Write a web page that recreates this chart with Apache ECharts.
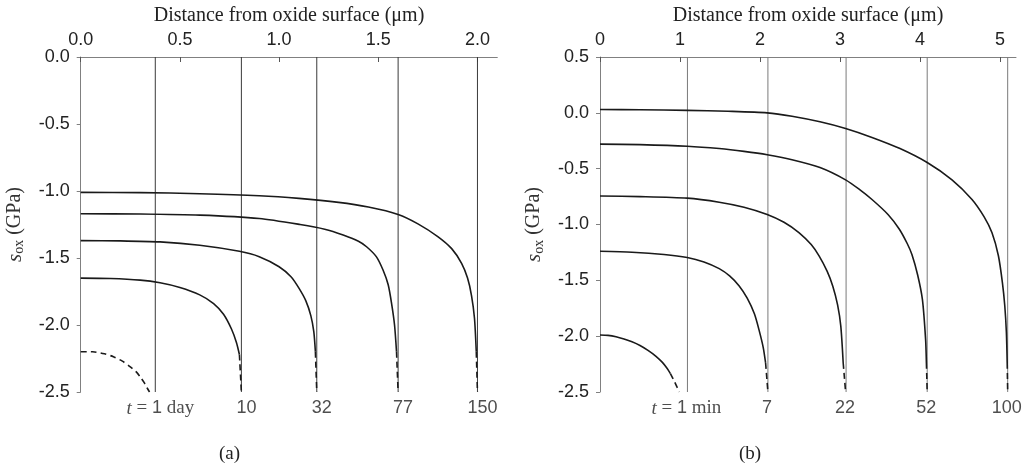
<!DOCTYPE html>
<html>
<head>
<meta charset="utf-8">
<script src="https://cdn.jsdelivr.net/npm/echarts@6/dist/echarts.min.js"></script>
<style>
html, body { margin: 0; padding: 0; background: #fff; }
#main { width: 1036px; height: 469px; }
</style>
</head>
<body>
<div id="main"></div>
<script>
// tick labels
var leftXTicks = [0, 0.5, 1.0, 1.5, 2.0];
var rightXTicks = [0, 1, 2, 3, 4, 5];

// growth front positions (um) and labels under them
var leftFronts = [0.376, 0.81, 1.19, 1.6, 2.0];
var leftTimes = ['1 day', '10', '32', '77', '150'];
var rightFronts = [1.093, 2.099, 3.076, 4.09, 5.096];
var rightTimes = ['1 min', '7', '22', '52', '100'];

// (a) stress profiles, GPa
var a1day = [[0, -2.2], [0.06, -2.2], [0.12, -2.215], [0.165, -2.237], [0.21, -2.27], [0.25, -2.312], [0.28, -2.35], [0.3, -2.387], [0.32, -2.43], [0.335, -2.47], [0.347, -2.5]];
var a10 = [[0, -1.65], [0.15, -1.653], [0.3, -1.665], [0.4, -1.685], [0.5, -1.72], [0.6, -1.775], [0.67, -1.84], [0.72, -1.92], [0.76, -2.03], [0.785, -2.13], [0.8, -2.22]];
var a10Tail = [[0.8, -2.22], [0.81, -2.5]];
var a32 = [[0, -1.37], [0.2, -1.372], [0.4, -1.38], [0.6, -1.405], [0.8, -1.45], [0.9, -1.49], [1.0, -1.565], [1.06, -1.64], [1.1, -1.725], [1.135, -1.82], [1.16, -1.93], [1.175, -2.05], [1.183, -2.2]];
var a32Tail = [[1.183, -2.2], [1.19, -2.5]];
var a77 = [[0, -1.17], [0.3, -1.172], [0.6, -1.18], [0.9, -1.205], [1.106, -1.25], [1.23, -1.285], [1.323, -1.328], [1.4, -1.375], [1.441, -1.416], [1.49, -1.49], [1.524, -1.59], [1.55, -1.7], [1.567, -1.838], [1.582, -2.0], [1.592, -2.2]];
var a77Tail = [[1.592, -2.2], [1.6, -2.5]];
var a150 = [[0, -1.01], [0.3, -1.012], [0.6, -1.02], [0.9, -1.035], [1.1, -1.055], [1.3, -1.085], [1.45, -1.12], [1.6, -1.175], [1.7, -1.245], [1.8, -1.34], [1.87, -1.43], [1.92, -1.54], [1.95, -1.65], [1.97, -1.78], [1.985, -1.95], [1.994, -2.2]];
var a150Tail = [[1.994, -2.2], [2.0, -2.5]];

// (b) stress profiles, GPa
var b1min = [[0, -1.99], [0.1, -1.993], [0.2, -2.005], [0.3, -2.025], [0.4, -2.05], [0.5, -2.083], [0.6, -2.127], [0.7, -2.18], [0.78, -2.235], [0.84, -2.29], [0.88, -2.335]];
var b1minTail = [[0.88, -2.335], [0.93, -2.405], [0.965, -2.46], [0.99, -2.5]];
var b7 = [[0, -1.24], [0.4, -1.248], [0.8, -1.268], [1.09, -1.295], [1.3, -1.335], [1.49, -1.395], [1.62, -1.46], [1.74, -1.55], [1.84, -1.66], [1.93, -1.8], [1.99, -1.95], [2.04, -2.1], [2.07, -2.24]];
var b7Tail = [[2.07, -2.24], [2.099, -2.5]];
var b22 = [[0, -0.745], [0.5, -0.75], [1.09, -0.764], [1.49, -0.8], [1.8, -0.845], [2.09, -0.91], [2.3, -0.98], [2.49, -1.074], [2.64, -1.18], [2.74, -1.283], [2.84, -1.42], [2.91, -1.552], [2.97, -1.72], [3.01, -1.91], [3.04, -2.24]];
var b22Tail = [[3.04, -2.24], [3.07, -2.5]];
var b52 = [[0, -0.28], [0.5, -0.285], [1.09, -0.299], [1.49, -0.32], [1.8, -0.345], [2.09, -0.375], [2.4, -0.42], [2.75, -0.49], [3.07, -0.6], [3.25, -0.69], [3.4, -0.776], [3.6, -0.91], [3.74, -1.04], [3.84, -1.17], [3.9, -1.27], [3.97, -1.45], [4.03, -1.671], [4.07, -2.03], [4.08, -2.24]];
var b52Tail = [[4.08, -2.24], [4.09, -2.5]];
var b100 = [[0, 0.03], [0.5, 0.028], [1.09, 0.022], [1.6, 0.014], [2.09, 0.0], [2.4, -0.03], [2.75, -0.08], [3.07, -0.14], [3.4, -0.22], [3.75, -0.32], [4.09, -0.445], [4.4, -0.6], [4.65, -0.776], [4.8, -0.93], [4.9, -1.074], [4.98, -1.28], [5.03, -1.52], [5.06, -1.73], [5.08, -1.97], [5.09, -2.24]];
var b100Tail = [[5.09, -2.24], [5.096, -2.5]];

var SERIF = 'Liberation Serif';
var SANS = 'Liberation Sans';

var chart = echarts.init(document.getElementById('main'));

function curve(idx, pts, dashed) {
	return {
		type: 'line',
		xAxisIndex: idx,
		yAxisIndex: idx,
		data: pts,
		symbol: 'none',
		smooth: 0.25,
		silent: true,
		lineStyle: { color: '#1a1a1a', width: 1.6, type: dashed ? [6, 4] : 'solid' }
	};
}

function fronts(idx, xs, yTop, yBot, color) {
	return xs.map(function(x) {
		return {
			type: 'line',
			xAxisIndex: idx,
			yAxisIndex: idx,
			data: [[x, yTop], [x, yBot]],
			symbol: 'none',
			silent: true,
			lineStyle: { color: color, width: 1 }
		};
	});
}

function timeLabels(idx, xs, names, yBot, dx) {
	return {
		type: 'scatter',
		xAxisIndex: idx,
		yAxisIndex: idx,
		symbolSize: 0,
		silent: true,
		data: xs.map(function(x, i) { return { value: [x, yBot], name: names[i] }; }),
		label: {
			show: true,
			position: 'bottom',
			distance: 7,
			offset: [dx, 0],
			formatter: function(p) {
				if (p.dataIndex === 0) {
					var parts = p.name.split(' ');
					return '{it|t}{sf| = }{ss|' + parts[0] + '}{sf| ' + parts[1] + '}';
				}
				return '{ss|' + p.name + '}';
			},
			rich: {
				it: { fontFamily: SERIF, fontStyle: 'italic', fontSize: 19, color: '#222' },
				sf: { fontFamily: SERIF, fontSize: 19, color: '#222' },
				ss: { fontFamily: SANS, fontSize: 18, color: '#222' }
			}
		}
	};
}

function xAxisCfg(idx, max, ticks, digits) {
	return {
		gridIndex: idx,
		type: 'value',
		position: 'top',
		min: 0,
		max: max,
		name: 'Distance from oxide surface (\u03bcm)',
		nameLocation: 'middle',
		nameGap: 30,
		nameTextStyle: { fontFamily: SERIF, fontSize: 20, color: '#222' },
		axisLine: { onZero: false, lineStyle: { color: '#808080', width: 1 } },
		axisTick: { show: true, inside: true, length: 5, customValues: ticks, lineStyle: { color: '#555' } },
		axisLabel: {
			customValues: ticks,
			margin: 8,
			fontFamily: SANS,
			fontSize: 18,
			color: '#222',
			formatter: function(v) { return v.toFixed(digits); }
		},
		splitLine: { show: false }
	};
}

function yAxisCfg(idx, max) {
	return {
		gridIndex: idx,
		type: 'value',
		min: -2.5,
		max: max,
		interval: 0.5,
		name: '{i|s}{sub|ox}{t| (GPa)}',
		nameLocation: 'middle',
		nameRotate: 90,
		nameGap: 54,
		nameTextStyle: {
			rich: {
				i: { fontFamily: SERIF, fontStyle: 'italic', fontSize: 21, color: '#333', lineHeight: 22, verticalAlign: 'top' },
				sub: { fontFamily: SERIF, fontSize: 14, color: '#333', lineHeight: 14, verticalAlign: 'bottom', padding: [8, 0, 0, 0] },
				t: { fontFamily: SERIF, fontSize: 20, color: '#333', lineHeight: 22, verticalAlign: 'top' }
			}
		},
		axisLine: { show: true, onZero: false, lineStyle: { color: '#808080', width: 1 } },
		axisTick: { show: true, inside: false, length: 4, lineStyle: { color: '#808080' } },
		axisLabel: {
			margin: 11,
			fontFamily: SANS,
			fontSize: 18,
			color: '#222',
			formatter: function(v) { return v.toFixed(1); }
		},
		splitLine: { show: false }
	};
}

var series = []
	.concat(fronts(0, leftFronts, 0, -2.5, '#3a3a3a'))
	.concat(fronts(1, rightFronts, 0.5, -2.5, '#7a7a7a'))
	.concat([
		curve(0, a1day, true),
		curve(0, a10, false), curve(0, a10Tail, true),
		curve(0, a32, false), curve(0, a32Tail, true),
		curve(0, a77, false), curve(0, a77Tail, true),
		curve(0, a150, false), curve(0, a150Tail, true),
		curve(1, b1min, false), curve(1, b1minTail, true),
		curve(1, b7, false), curve(1, b7Tail, true),
		curve(1, b22, false), curve(1, b22Tail, true),
		curve(1, b52, false), curve(1, b52Tail, true),
		curve(1, b100, false), curve(1, b100Tail, true),
		timeLabels(0, leftFronts, leftTimes, -2.5, 5),
		timeLabels(1, rightFronts, rightTimes, -2.5, -1)
	]);

chart.setOption({
	animation: false,
	backgroundColor: '#fff',
	grid: [
		{ left: 80.7, top: 57, width: 416.6, height: 335 },
		{ left: 600, top: 57, width: 416, height: 335 }
	],
	xAxis: [xAxisCfg(0, 2.1, leftXTicks, 1), xAxisCfg(1, 5.2, rightXTicks, 0)],
	yAxis: [yAxisCfg(0, 0), yAxisCfg(1, 0.5)],
	graphic: [
		{ type: 'text', left: 219, top: 445, style: { text: '(a)', fontFamily: SERIF, fontSize: 19, fill: '#222' } },
		{ type: 'text', left: 739, top: 445, style: { text: '(b)', fontFamily: SERIF, fontSize: 19, fill: '#222' } }
	],
	series: series
});
</script>
</body>
</html>
